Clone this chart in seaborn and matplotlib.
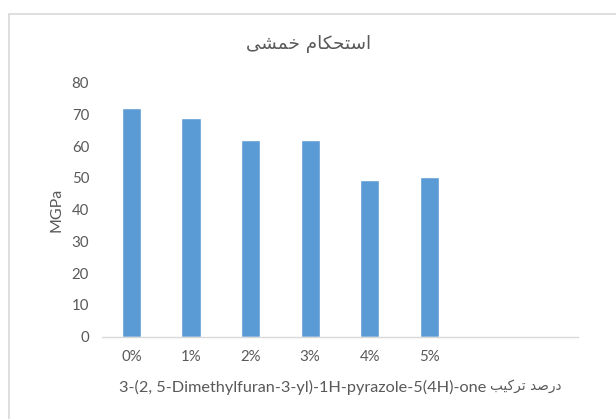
import matplotlib
matplotlib.use("Agg")
import matplotlib.pyplot as plt
import seaborn as sns
import pandas as pd
from matplotlib.patches import Rectangle

# ---- data ----
categories = ["0%", "1%", "2%", "3%", "4%", "5%"]
values = [72, 69, 62, 62, 49.3, 50.2]
n_slots = 8  # category axis has two empty slots on the right
y_ticks = [0, 10, 20, 30, 40, 50, 60, 70, 80]

# Persian text in visual order (presentation forms, shaped)
title_txt = "\ufbfd\ufeb8\ufee4\ufea7 \ufee1\ufe8e\ufb91\ufea4\ufe98\ufeb3\ufe8d"      # استحکام خمشی
fa_tarkib = "\ufe90\ufbff\ufb90\ufeae\ufe97"                                          # ترکیب
fa_darsad = "\ufeaa\ufebb\ufead\ufea9"                                                 # درصد
compound = "3-(2, 5-Dimethylfuran-3-yl)-1H-pyrazole-5(4H)-one"
xlabel_fa = fa_tarkib + " " + fa_darsad
ylabel_txt = "MGPa"

df = pd.DataFrame({"cat": categories, "val": values})

sns.set_theme(style="white")
plt.rcParams["font.family"] = ["Lato", "DejaVu Sans"]

W, H = 616, 419
fig = plt.figure(figsize=(W / 100, H / 100), dpi=100)
ax = fig.add_axes([101.7 / W, 1 - 336.7 / H, (578 - 101.7) / W, (336.7 - 82.7) / H])

sns.barplot(data=df, x="cat", y="val", order=categories, color="#5B9BD5",
            width=0.32, saturation=1, ax=ax)

ax.set_xlim(-0.5, n_slots - 0.5)
ax.set_ylim(0, 80)
ax.set_yticks(y_ticks)
ax.set_yticklabels([str(t) for t in y_ticks])
ax.set_xlabel("")
ax.set_ylabel("")

for s in ["top", "right", "left"]:
    ax.spines[s].set_visible(False)
ax.spines["bottom"].set_color("#d9d9d9")
ax.spines["bottom"].set_linewidth(1.0)
ax.tick_params(axis="both", length=0, colors="#595959", labelsize=10.8)
ax.tick_params(axis="y", pad=9)
ax.tick_params(axis="x", pad=9.5)
ax.grid(False)

gray = "#595959"
fig.text(309 / W, 1 - 44 / H, title_txt, ha="center", va="center",
         fontsize=13.2, color=gray, family=["DejaVu Sans"])
fig.text(486 / W, 1 - 387 / H, compound, ha="right", va="center",
         fontsize=11.7, color=gray)
fig.text(490 / W, 1 - 386 / H, xlabel_fa, ha="left", va="center",
         fontsize=9.8, color=gray, family=["DejaVu Sans"])
fig.text(57 / W, 1 - 210 / H, ylabel_txt, ha="center", va="center",
         rotation=90, fontsize=11.5, color=gray)

fig.patches.append(Rectangle((9 / W, -0.05), 1.2, 1 - 14 / H + 0.05,
                             transform=fig.transFigure, fill=False,
                             edgecolor="#d9d9d9", linewidth=1.2))

fig.savefig("out.png", dpi=100)
